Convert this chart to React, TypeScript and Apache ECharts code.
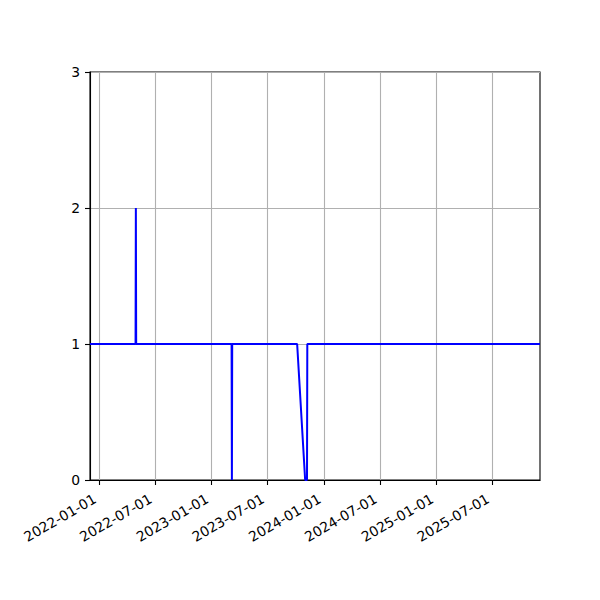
import { useEffect, useRef } from "react";
import * as echarts from "echarts";

// observation dates and the count recorded at each one
const dates = [
  "2021-12-02",
  "2022-04-29",
  "2022-04-30",
  "2022-05-01",
  "2023-03-07",
  "2023-03-08",
  "2023-03-09",
  "2023-10-06",
  "2023-11-01",
  "2023-11-07",
  "2023-11-08",
  "2025-12-03",
];
const counts = [1, 1, 2, 1, 1, 0, 1, 1, 0, 0, 1, 1];

const xTicks = [
  "2022-01-01",
  "2022-07-01",
  "2023-01-01",
  "2023-07-01",
  "2024-01-01",
  "2024-07-01",
  "2025-01-01",
  "2025-07-01",
];
const xRange = ["2021-12-02", "2025-12-03"];
const yTicks = [0, 1, 2, 3];

const ts = (s: string) => Date.parse(s);
const font = "DejaVu Sans";

export default function App() {
  const ref = useRef<HTMLDivElement | null>(null);

  useEffect(() => {
    document.body.style.margin = "0";
    if (!ref.current) return;
    const chart = echarts.init(ref.current, undefined, { renderer: "svg" });
    const tickValues = xTicks.map(ts);

    chart.setOption({
      animation: false,
      backgroundColor: "#ffffff",
      grid: {
        left: 90,
        right: 60,
        top: 72,
        bottom: 120,
        show: true,
        borderColor: "#000000",
        borderWidth: 1.1,
        backgroundColor: "transparent",
      },
      xAxis: {
        type: "value",
        min: ts(xRange[0]),
        max: ts(xRange[1]),
        axisLine: { show: true, lineStyle: { color: "#000", width: 1.1 } },
        axisTick: {
          show: true,
          customValues: tickValues,
          length: 5,
          lineStyle: { color: "#000", width: 1.1 },
        },
        splitLine: { show: true, lineStyle: { color: "#b0b0b0", width: 1.1 } },
        axisLabel: {
          customValues: tickValues,
          rotate: 30,
          margin: 15,
          padding: [0, 5, 0, 0],
          color: "#000",
          fontFamily: font,
          fontSize: 13.9,
          formatter: (v: number) => new Date(v).toISOString().slice(0, 10),
        },
      },
      yAxis: {
        type: "value",
        min: yTicks[0],
        max: yTicks[yTicks.length - 1],
        interval: 1,
        axisLine: { show: true, lineStyle: { color: "#000", width: 1.1 } },
        axisTick: { show: true, length: 5, lineStyle: { color: "#000", width: 1.1 } },
        splitLine: { show: true, lineStyle: { color: "#b0b0b0", width: 1.1 } },
        axisLabel: { margin: 10, color: "#000", fontFamily: font, fontSize: 13.9 },
      },
      series: [
        {
          type: "line",
          data: dates.map((d, i) => [ts(d), counts[i]]),
          showSymbol: false,
          lineStyle: { color: "#0000ff", width: 2 },
          itemStyle: { color: "#0000ff" },
        },
      ],
    });

    return () => chart.dispose();
  }, []);

  return <div ref={ref} style={{ width: 600, height: 600 }} />;
}
